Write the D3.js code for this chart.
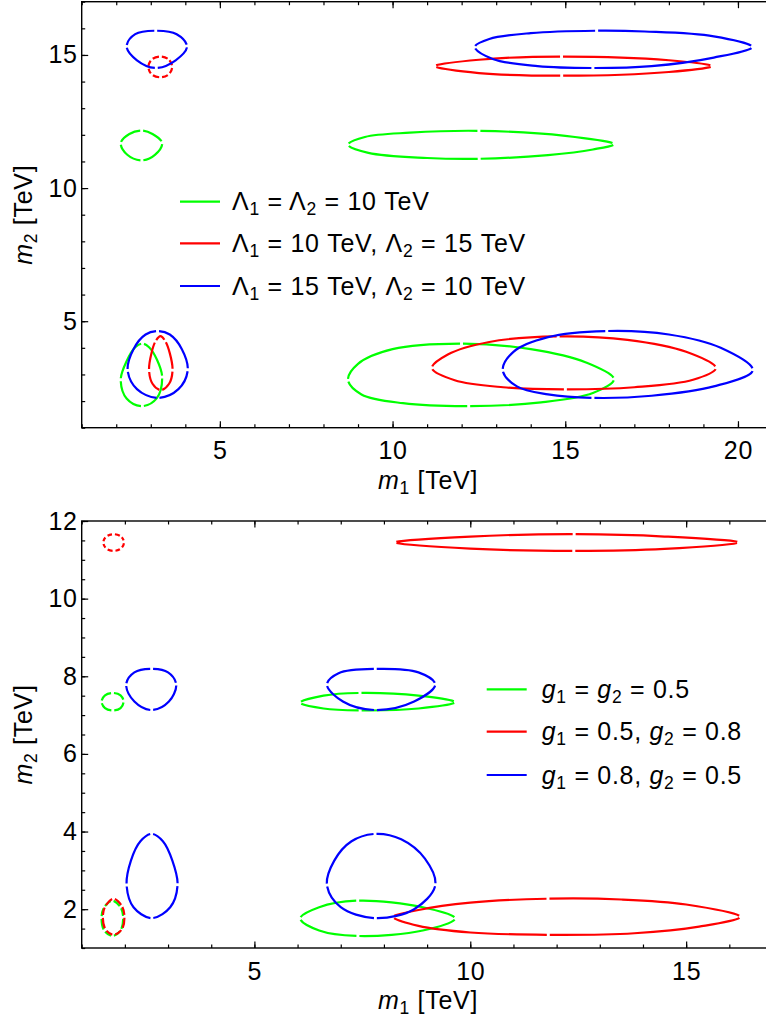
<!DOCTYPE html>
<html>
<head>
<meta charset="utf-8">
<script src="https://cdn.jsdelivr.net/npm/d3@7"></script>
<style>
  body { margin: 0; background: #fff; }
  text { font-family: "Liberation Sans", Arial, sans-serif; letter-spacing: 0.7px; }
</style>
</head>
<body>
<svg id="chart" width="766" height="1028"></svg>
<script>
// ---- top panel: Lambda scan, contour points [m1, m2] in TeV ----
var lamGreen = [
  [[3.33,11.69],[3.05,12.03],[2.73,12.16],[2.38,12.03],[2.13,11.69],[2.32,11.25],[2.73,11.04],[3.12,11.25]],
  [[16.41,11.65],[15.0,11.96],[12.5,12.15],[10.5,12.08],[9.2,11.92],[8.71,11.63],[9.3,11.32],[11.0,11.13],[12.5,11.1],[14.5,11.24],[15.8,11.45]],
  [[3.33,2.88],[3.18,3.55],[2.95,4.02],[2.76,4.16],[2.55,4.02],[2.30,3.5],[2.13,2.80],[2.3,2.1],[2.75,1.81],[3.17,2.1]],
  [[16.41,2.82],[15.6,3.45],[14.0,3.95],[12.0,4.16],[10.0,3.95],[9.0,3.4],[8.71,2.79],[9.1,2.25],[10.3,1.92],[12.2,1.81],[14.3,1.95],[15.8,2.3]]
];
var lamGreenGaps = [[0,2,4,6],[0,2,5,8],[0,3,6,8],[0,3,6,9]];

var lamRed = [
  [[3.62,14.55],[3.52,14.83],[3.275,14.94],[3.03,14.83],[2.93,14.55],[3.03,14.27],[3.275,14.16],[3.52,14.27]],
  [[19.24,14.58],[18.0,14.8],[14.9,14.94],[12.5,14.82],[11.23,14.58],[12.5,14.32],[14.9,14.22],[18.0,14.36]],
  [[3.63,3.16],[3.55,3.8],[3.42,4.25],[3.28,4.44],[3.14,4.25],[3.02,3.8],[2.95,3.16],[3.05,2.65],[3.29,2.41],[3.53,2.65]],
  [[19.36,3.24],[18.5,3.85],[16.8,4.3],[14.8,4.43],[12.8,4.22],[11.6,3.75],[11.14,3.24],[11.8,2.78],[13.2,2.52],[15.0,2.44],[17.0,2.52],[18.7,2.8]]
];
var lamRedGaps = [[0,1,2,3,4,5,6,7],[0,2,4,6],[0,2,4,6,8],[0,3,6,9]];

var lamBlue = [
  [[4.05,15.32],[3.75,15.78],[3.15,15.91],[2.55,15.78],[2.30,15.32],[2.6,14.8],[3.15,14.51],[3.72,14.8]],
  [[20.41,15.3],[19.3,15.7],[17.3,15.88],[15.9,15.91],[14.0,15.82],[12.8,15.6],[12.38,15.3],[12.9,14.85],[14.2,14.58],[15.8,14.51],[17.5,14.58],[19.3,14.9]],
  [[4.07,3.16],[3.9,3.95],[3.55,4.5],[3.2,4.63],[2.85,4.5],[2.5,3.95],[2.33,3.16],[2.6,2.45],[3.2,2.12],[3.8,2.45]],
  [[20.43,3.16],[19.5,4.0],[18.0,4.5],[16.2,4.63],[14.5,4.4],[13.5,3.85],[13.19,3.16],[13.6,2.55],[14.5,2.25],[15.8,2.12],[17.5,2.2],[19.3,2.55]]
];
var lamBlueGaps = [[0,2,4,6],[0,3,6,9],[0,3,6,8],[0,3,6,9]];

var lamLabels = [
  [["Λ",""],["1","sub"],[" = Λ",""],["2","sub"],[" = 10 TeV",""]],
  [["Λ",""],["1","sub"],[" = 10 TeV, Λ",""],["2","sub"],[" = 15 TeV",""]],
  [["Λ",""],["1","sub"],[" = 15 TeV, Λ",""],["2","sub"],[" = 10 TeV",""]]
];

// ---- bottom panel: coupling scan ----
var gGreen = [
  [[1.97,7.35],[1.9,7.51],[1.72,7.57],[1.54,7.51],[1.46,7.35],[1.54,7.18],[1.72,7.12],[1.9,7.18]],
  [[9.65,7.33],[8.8,7.5],[7.45,7.57],[6.6,7.5],[6.06,7.32],[6.6,7.17],[7.45,7.12],[8.8,7.17]],
  [[1.96,1.78],[1.9,2.05],[1.71,2.22],[1.52,2.05],[1.46,1.78],[1.52,1.45],[1.71,1.31],[1.9,1.45]],
  [[9.65,1.76],[8.9,2.05],[7.4,2.22],[6.5,2.05],[6.06,1.76],[6.5,1.45],[7.4,1.31],[8.9,1.45]]
];
var gGreenGaps = [[0,2,4,6],[0,2,4,6],[0,1,2,3,4,5,6,7],[0,2,4,6]];

var gRed = [
  [[1.98,11.45],[1.91,11.6],[1.74,11.66],[1.57,11.6],[1.50,11.45],[1.57,11.29],[1.74,11.23],[1.91,11.29]],
  [[16.21,11.45],[14.5,11.6],[12.4,11.66],[10.0,11.6],[8.26,11.45],[10.0,11.29],[12.4,11.23],[14.5,11.28]],
  [[1.99,1.81],[1.93,2.08],[1.74,2.27],[1.55,2.08],[1.49,1.81],[1.55,1.48],[1.74,1.34],[1.93,1.48]],
  [[16.25,1.80],[15.0,2.12],[13.5,2.25],[11.8,2.27],[10.0,2.17],[8.8,1.98],[8.22,1.80],[8.8,1.57],[10.0,1.4],[11.8,1.34],[13.8,1.38],[15.3,1.55]]
];
var gRedGaps = [[0,1,2,3,4,5,6,7],[0,2,4,6],[0,1,2,3,4,5,6,7],[0,3,6,9]];

var gBlue = [
  [[3.19,7.79],[3.0,8.1],[2.62,8.19],[2.22,8.1],[2.03,7.79],[2.22,7.35],[2.62,7.13],[3.02,7.35]],
  [[9.19,7.79],[8.8,8.1],[7.8,8.19],[6.95,8.08],[6.68,7.79],[7.05,7.35],[7.8,7.13],[8.7,7.35]],
  [[3.22,2.62],[3.1,3.25],[2.88,3.75],[2.62,3.94],[2.36,3.75],[2.14,3.25],[2.04,2.62],[2.2,2.05],[2.62,1.77],[3.05,2.05]],
  [[9.19,2.62],[8.95,3.3],[8.4,3.8],[7.8,3.94],[7.25,3.75],[6.85,3.25],[6.68,2.62],[7.0,2.05],[7.8,1.77],[8.7,2.0]]
];
var gBlueGaps = [[0,2,4,6],[0,2,4,6],[0,3,6,8],[0,3,6,8]];

var gLabels = [
  [["g","it"],["1","sub"],[" = ",""],["g","it"],["2","sub"],[" = 0.5",""]],
  [["g","it"],["1","sub"],[" = 0.5, ",""],["g","it"],["2","sub"],[" = 0.8",""]],
  [["g","it"],["1","sub"],[" = 0.8, ",""],["g","it"],["2","sub"],[" = 0.5",""]]
];

var topXMajor = [5, 10, 15, 20];
var topYMajor = [5, 10, 15];
var botXMajor = [5, 10, 15];
var botYMajor = [2, 4, 6, 8, 10, 12];

var colors = ["#00ff00", "#ff0000", "#0000ff"];
var FS = 25;

var svg = d3.select("#chart");

// put little breaks in a closed contour at the given points (like the plot's segment joins)
function breakAt(node, pix, gapIdx, gap) {
  var T = node.getTotalLength();
  var N = Math.ceil(T / 0.5);
  var samples = d3.range(N + 1).map(function(i) {
    var l = i * T / N, p = node.getPointAtLength(l);
    return [l, p.x, p.y];
  });
  var Ls = gapIdx.map(function(i) {
    var q = pix[i];
    return d3.least(samples, function(s) {
      return (s[1] - q[0]) * (s[1] - q[0]) + (s[2] - q[1]) * (s[2] - q[1]);
    })[0];
  }).sort(d3.ascending);
  var arr = [];
  for (var k = 0; k < Ls.length; k++) {
    var a = Ls[k] + gap / 2;
    var b = (k + 1 < Ls.length ? Ls[k + 1] : Ls[0] + T) - gap / 2;
    arr.push(Math.max(b - a, 0.1), gap);
  }
  node.setAttribute("stroke-dasharray", arr.join(" "));
  node.setAttribute("stroke-dashoffset", -(Ls[0] + gap / 2));
}

function richText(sel, parts) {
  var shifted = false;
  parts.forEach(function(p) {
    var t = sel.append("tspan").text(p[0]);
    if (p[1] === "sub") {
      t.attr("font-size", FS * 0.7).attr("dy", 5);
      shifted = true;
    } else {
      if (shifted) { t.attr("dy", -5); shifted = false; }
      if (p[1] === "it") t.attr("font-style", "italic");
    }
  });
}

function panel(opt) {
  var x = d3.scaleLinear().domain(opt.xd).range([81.7, 772.5]);
  var y = d3.scaleLinear().domain(opt.yd).range([opt.bottom, opt.top]);
  var g = svg.append("g");
  var clipId = "clip" + opt.id;
  g.append("clipPath").attr("id", clipId).append("rect")
    .attr("x", 81.7).attr("y", opt.top).attr("width", 700).attr("height", opt.bottom - opt.top);

  // contours, green first then red then blue
  var line = d3.line()
    .x(function(d) { return x(d[0]); })
    .y(function(d) { return y(d[1]); })
    .curve(d3.curveCatmullRomClosed.alpha(0.5));
  var cg = g.append("g").attr("clip-path", "url(#" + clipId + ")");
  opt.sets.forEach(function(set, si) {
    set[0].forEach(function(pts, i) {
      var path = cg.append("path")
        .attr("d", line(pts))
        .attr("fill", "none")
        .attr("stroke", colors[si])
        .attr("stroke-width", 2.2);
      breakAt(path.node(), pts.map(function(d) { return [x(d[0]), y(d[1])]; }), set[1][i], 3);
    });
  });

  // frame
  g.append("rect")
    .attr("x", 81.7).attr("y", opt.top)
    .attr("width", 700).attr("height", opt.bottom - opt.top)
    .attr("fill", "none").attr("stroke", "#000").attr("stroke-width", 1.4);

  // ticks (inside)
  function styleAxis(a) {
    a.select(".domain").remove();
    a.selectAll("line").attr("stroke", "#000").attr("stroke-width", 1.2);
    a.selectAll("text").attr("font-family", "Liberation Sans, Arial, sans-serif")
      .attr("font-size", FS).attr("fill", "#000");
  }
  var minorX = d3.range(opt.xd[0], opt.xd[1] + 0.01, 1);
  var minorY = d3.range(opt.yd[0], opt.yd[1] + 0.01, opt.yMinor);
  g.append("g").attr("transform", "translate(0," + opt.bottom + ")")
    .call(d3.axisBottom(x).tickValues(minorX).tickFormat("").tickSizeInner(-3.5).tickSizeOuter(0)).call(styleAxis);
  g.append("g").attr("transform", "translate(0," + opt.bottom + ")")
    .call(d3.axisBottom(x).tickValues(opt.xMajor).tickFormat(d3.format("d")).tickSizeInner(-6.5).tickSizeOuter(0).tickPadding(14)).call(styleAxis);
  g.append("g").attr("transform", "translate(0," + opt.top + ")")
    .call(d3.axisTop(x).tickValues(minorX).tickFormat("").tickSizeInner(-3.5).tickSizeOuter(0)).call(styleAxis);
  g.append("g").attr("transform", "translate(0," + opt.top + ")")
    .call(d3.axisTop(x).tickValues(opt.xMajor).tickFormat("").tickSizeInner(-6.5).tickSizeOuter(0)).call(styleAxis);
  g.append("g").attr("transform", "translate(81.7,0)")
    .call(d3.axisLeft(y).tickValues(minorY).tickFormat("").tickSizeInner(-3.5).tickSizeOuter(0)).call(styleAxis);
  g.append("g").attr("transform", "translate(81.7,0)")
    .call(d3.axisLeft(y).tickValues(opt.yMajor).tickFormat(d3.format("d")).tickSizeInner(-6.5).tickSizeOuter(0).tickPadding(4)).call(styleAxis);

  // axis titles
  var xt = g.append("text").attr("x", 428).attr("y", opt.bottom + 61)
    .attr("text-anchor", "middle").attr("font-size", FS);
  richText(xt, [["m", "it"], ["1", "sub"], [" [TeV]", ""]]);
  var yt = g.append("text")
    .attr("transform", "translate(32," + ((opt.top + opt.bottom) / 2) + ") rotate(-90)")
    .attr("text-anchor", "middle").attr("font-size", FS);
  richText(yt, [["m", "it"], ["2", "sub"], [" [TeV]", ""]]);

  // legend
  opt.labels.forEach(function(lab, i) {
    var ly = opt.legY[i];
    g.append("line").attr("x1", opt.legX).attr("x2", opt.legX + 40)
      .attr("y1", ly).attr("y2", ly)
      .attr("stroke", colors[i]).attr("stroke-width", 2.2);
    var t = g.append("text").attr("x", opt.legX + opt.legGap).attr("y", ly + 8.5)
      .attr("font-size", FS);
    richText(t, lab);
  });
}

panel({
  id: "top", xd: [1, 21], yd: [1, 17], top: 1.7, bottom: 427.7, yMinor: 1,
  xMajor: topXMajor, yMajor: topYMajor,
  sets: [[lamGreen, lamGreenGaps], [lamRed, lamRedGaps], [lamBlue, lamBlueGaps]],
  labels: lamLabels, legX: 180, legGap: 52, legY: [201.7, 243.3, 286]
});

panel({
  id: "bot", xd: [1, 17], yd: [1, 12], top: 521, bottom: 948, yMinor: 0.5,
  xMajor: botXMajor, yMajor: botYMajor,
  sets: [[gGreen, gGreenGaps], [gRed, gRedGaps], [gBlue, gBlueGaps]],
  labels: gLabels, legX: 486.7, legGap: 55, legY: [689.3, 731.7, 775]
});
</script>
</body>
</html>
